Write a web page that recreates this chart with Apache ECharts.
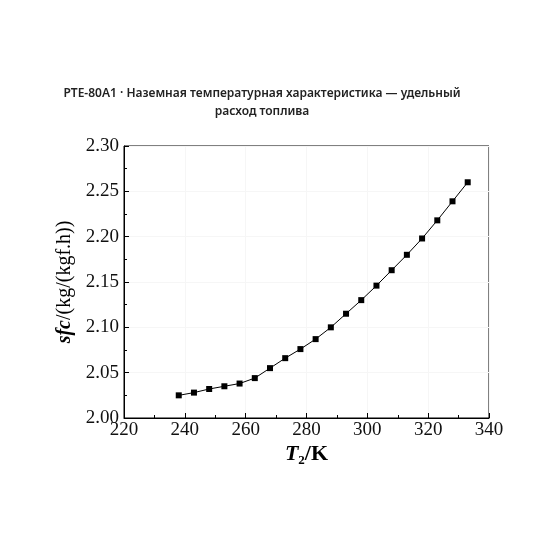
<!DOCTYPE html>
<html>
<head>
<meta charset="utf-8">
<script src="https://cdn.jsdelivr.net/npm/echarts@6/dist/echarts.min.js"></script>
<style>
    html, body { margin: 0; padding: 0; background: #fff; }
    #chart { width: 560px; height: 560px; }
</style>
</head>
<body>
<div id="chart"></div>
<script>
// T2, K
const t2_values = [238, 243, 248, 253, 258, 263, 268, 273, 278, 283,
                   288, 293, 298, 303, 308, 313, 318, 323, 328, 333];
// sfc, kg/(kgf.h)
const sfc_values = [2.025, 2.028, 2.032, 2.035, 2.038, 2.044, 2.055, 2.066, 2.076, 2.087,
                    2.100, 2.115, 2.130, 2.146, 2.163, 2.180, 2.198, 2.218, 2.239, 2.260];

const title_text = "PTE-80A1 · Наземная температурная характеристика — удельный\nрасход топлива";

const serif = "Liberation Serif, Times New Roman, serif";

const points = t2_values.map((t, i) => [t, sfc_values[i]]);

const chart = echarts.init(document.getElementById("chart"));

const config = {
    backgroundColor: "#fff",
    animation: false,
    title: {
        text: title_text,
        left: 257,
        top: 80,
        textAlign: "center",
        textStyle: {
            fontFamily: "Noto Sans",
            fontSize: 12,
            fontWeight: 600,
            color: "#222",
            lineHeight: 18,
        },
    },
    grid: {
        left: 124,
        right: 71,
        top: 146,
        bottom: 142,
        show: true,
        borderColor: "#000",
        borderWidth: 1,
    },
    xAxis: {
        type: "value",
        min: 220,
        max: 340,
        interval: 20,
        name: "{t|T}{s|2}{k|/K}",
        nameLocation: "middle",
        nameGap: 24,
        nameTextStyle: {
            rich: {
                t: { fontFamily: serif, fontSize: 22, fontWeight: "bold", fontStyle: "italic", color: "#000" },
                s: { fontFamily: serif, fontSize: 13, fontWeight: "bold", color: "#000", verticalAlign: "bottom", padding: [12, 0, 0, 0] },
                k: { fontFamily: serif, fontSize: 22, fontWeight: "bold", color: "#000" },
            },
        },
        axisLine: { show: true, onZero: false, lineStyle: { color: "#000", width: 1 } },
        axisTick: { show: true, inside: true, length: 5, lineStyle: { color: "#000" } },
        minorTick: { show: true, splitNumber: 2, length: 3, lineStyle: { color: "#000" } },
        splitLine: { show: true, lineStyle: { color: "#f6f6f6", width: 1 } },
        axisLabel: {
            fontFamily: serif,
            fontSize: 19,
            color: "#111",
            margin: 3,
        },
    },
    yAxis: {
        type: "value",
        min: 2.0,
        max: 2.3,
        interval: 0.05,
        name: "{b|sfc}{r|/(kg/(kgf.h))}",
        nameLocation: "middle",
        nameGap: 46,
        nameTextStyle: {
            rich: {
                b: { fontFamily: serif, fontSize: 20, fontWeight: "bold", fontStyle: "italic", color: "#000" },
                r: { fontFamily: serif, fontSize: 20, color: "#000" },
            },
        },
        axisLine: { show: true, onZero: false, lineStyle: { color: "#000", width: 1 } },
        axisTick: { show: true, inside: true, length: 5, lineStyle: { color: "#000" } },
        minorTick: { show: true, splitNumber: 2, length: 3, lineStyle: { color: "#000" } },
        splitLine: { show: true, lineStyle: { color: "#f6f6f6", width: 1 } },
        axisLabel: {
            fontFamily: serif,
            fontSize: 19,
            color: "#111",
            margin: 5,
            formatter: (v) => v.toFixed(2),
        },
    },
    series: [
        {
            name: "sfc",
            type: "line",
            data: points,
            symbol: "rect",
            symbolSize: 6,
            itemStyle: { color: "#000" },
            lineStyle: { color: "#000", width: 1 },
        },
    ],
};

chart.setOption(config);
</script>
</body>
</html>
